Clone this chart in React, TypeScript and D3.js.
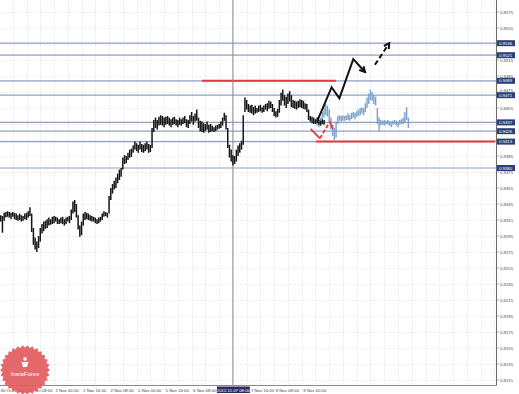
import React from "react";
import * as d3 from "d3";

// ---- data (hourly bars, EURCHF-like H1) ----
const blackStart = 0;
const blackHigh = [
  0.9323, 0.9321, 0.932, 0.9324, 0.9325, 0.9326, 0.9325, 0.9324, 0.9325, 0.9324,
  0.9323, 0.9321, 0.9323, 0.9321, 0.932, 0.9323, 0.9324, 0.9326, 0.9331, 0.9323,
  0.9305, 0.9293, 0.9288, 0.9295, 0.9305, 0.931, 0.9313, 0.9314, 0.9316, 0.9318,
  0.9316, 0.9319, 0.932, 0.9319, 0.9318, 0.9316, 0.9318, 0.9319, 0.9316, 0.9318,
  0.9319, 0.932, 0.9328, 0.9338, 0.934, 0.9335, 0.9321, 0.9308, 0.9313, 0.9323,
  0.9325, 0.9324, 0.9323, 0.9321, 0.932, 0.9319, 0.9318, 0.9316, 0.9318, 0.9319,
  0.9323, 0.9326, 0.9325, 0.9324, 0.9345, 0.9355, 0.936, 0.9364, 0.9368, 0.9373,
  0.9378, 0.938, 0.9393, 0.9396, 0.9395, 0.9399, 0.9403, 0.9404, 0.9408, 0.9413,
  0.9411, 0.9409, 0.9413, 0.941, 0.9409, 0.9411, 0.9413, 0.941, 0.9409, 0.943,
  0.944, 0.9443, 0.944, 0.9444, 0.9446, 0.9445, 0.9443, 0.9444, 0.9445, 0.9443,
  0.9441, 0.9443, 0.9444, 0.9441, 0.944, 0.9443, 0.9441, 0.9443, 0.9445, 0.9441,
  0.944, 0.9446, 0.945, 0.9445, 0.9448, 0.9453, 0.9443, 0.9439, 0.9438, 0.9436,
  0.9435, 0.9438, 0.9434, 0.9435, 0.9433, 0.9431, 0.9433, 0.9434, 0.9435, 0.9438,
  0.9443, 0.9449, 0.9446, 0.943, 0.9409, 0.9403, 0.9396, 0.9395, 0.9403, 0.9408,
  0.9411, 0.9414, 0.9446, 0.9468, 0.9465, 0.946, 0.9458, 0.9459, 0.9456, 0.9458,
  0.9455, 0.9458, 0.9459, 0.9456, 0.9458, 0.946, 0.9461, 0.9464, 0.9463, 0.946,
  0.9455, 0.9451, 0.9454, 0.9465, 0.9474, 0.9478, 0.9471, 0.9469, 0.9473, 0.9476,
  0.9471, 0.9465, 0.9464, 0.9463, 0.9464, 0.9466, 0.9465, 0.9464, 0.9461, 0.946,
  0.9453, 0.9445, 0.9444, 0.9443, 0.9441, 0.9443, 0.944, 0.9439, 0.9441, 0.944,
];
const blackLow = [
  0.9316, 0.9313, 0.9299, 0.9314, 0.9318, 0.9319, 0.9318, 0.9316, 0.9319, 0.9316,
  0.9315, 0.9314, 0.9315, 0.9313, 0.9314, 0.9316, 0.9315, 0.9318, 0.932, 0.93,
  0.9284, 0.9278, 0.9275, 0.928, 0.9288, 0.9298, 0.9301, 0.9304, 0.9305, 0.9308,
  0.9309, 0.931, 0.9311, 0.9313, 0.931, 0.931, 0.9311, 0.931, 0.9308, 0.931,
  0.9313, 0.9311, 0.9315, 0.9323, 0.9325, 0.9318, 0.9303, 0.9294, 0.9296, 0.9308,
  0.9315, 0.9316, 0.9315, 0.9314, 0.9313, 0.9313, 0.9311, 0.931, 0.9311, 0.9313,
  0.9315, 0.9319, 0.932, 0.9318, 0.9323, 0.934, 0.9348, 0.9353, 0.9355, 0.9361,
  0.9365, 0.9369, 0.9378, 0.9385, 0.9386, 0.939, 0.9393, 0.9394, 0.9399, 0.9403,
  0.9401, 0.9399, 0.9403, 0.94, 0.9399, 0.9401, 0.9403, 0.9399, 0.94, 0.9405,
  0.9425, 0.943, 0.9428, 0.9433, 0.9434, 0.9433, 0.9431, 0.9434, 0.9435, 0.9433,
  0.9431, 0.9434, 0.9435, 0.9433, 0.9431, 0.9434, 0.9433, 0.9435, 0.9436, 0.9431,
  0.943, 0.9435, 0.9438, 0.9434, 0.9438, 0.9439, 0.943, 0.9426, 0.9425, 0.9424,
  0.9426, 0.9428, 0.9424, 0.9425, 0.9426, 0.9425, 0.9426, 0.9428, 0.9429, 0.943,
  0.9433, 0.9439, 0.9428, 0.9405, 0.9393, 0.9388, 0.9383, 0.9385, 0.9388, 0.9395,
  0.9399, 0.9403, 0.9409, 0.945, 0.9453, 0.945, 0.9449, 0.9448, 0.9446, 0.9448,
  0.9449, 0.945, 0.9451, 0.9449, 0.945, 0.9453, 0.9451, 0.9454, 0.9455, 0.945,
  0.9445, 0.9443, 0.9444, 0.9449, 0.9458, 0.9464, 0.9458, 0.9455, 0.946, 0.9463,
  0.9456, 0.9455, 0.9454, 0.9453, 0.9455, 0.9456, 0.9455, 0.9454, 0.9453, 0.945,
  0.944, 0.9438, 0.9436, 0.9435, 0.9435, 0.9436, 0.9434, 0.9433, 0.9435, 0.9434,
];
const blueStart = 185;
const blueHigh = [
  0.944, 0.9441, 0.9443, 0.945, 0.9459, 0.946, 0.9458, 0.9453, 0.9443, 0.9434,
  0.943, 0.9438, 0.9445, 0.9446, 0.9445, 0.9446, 0.9445, 0.9446, 0.9448, 0.9446,
  0.9449, 0.945, 0.9449, 0.9451, 0.9453, 0.9455, 0.9456, 0.9455, 0.9461, 0.9468,
  0.9473, 0.9478, 0.9475, 0.9471, 0.9469, 0.9455, 0.9443, 0.944, 0.9439, 0.944,
  0.9439, 0.944, 0.9439, 0.9438, 0.9439, 0.944, 0.9439, 0.9438, 0.944, 0.9441,
  0.9443, 0.945, 0.9456, 0.9443,
];
const blueLow = [
  0.9433, 0.9431, 0.9433, 0.9438, 0.9443, 0.9446, 0.9444, 0.9438, 0.9428, 0.942,
  0.9415, 0.9418, 0.9435, 0.9439, 0.9438, 0.9439, 0.9439, 0.944, 0.944, 0.9439,
  0.9441, 0.9443, 0.9441, 0.9444, 0.9445, 0.9446, 0.9448, 0.9446, 0.945, 0.9455,
  0.946, 0.9465, 0.9464, 0.946, 0.9458, 0.9435, 0.9426, 0.9433, 0.9434, 0.9433,
  0.9434, 0.9435, 0.9433, 0.9431, 0.9434, 0.9435, 0.9433, 0.9431, 0.9434, 0.9435,
  0.9435, 0.9436, 0.944, 0.943,
];

const levelPrices = [0.9536, 0.9521, 0.9489, 0.9471, 0.9437, 0.9426, 0.9413, 0.938];
const redLevels = [
  { price: 0.9489, from: 118, to: 196 },
  { price: 0.9413, from: 184.3, to: 288.4 },
];
const forecastArrow: [number, number][] = [
  [184.9, 0.9438], [193.4, 0.9481], [197.9, 0.9467], [206, 0.9516], [212.8, 0.95],
];
const forecastDashed: [number, number][] = [[218.6, 0.9509], [226.9, 0.9536]];
const redPath: [number, number][] = [
  [181.2, 0.9429], [186.6, 0.9417], [192.4, 0.9438], [194, 0.9429],
];

const priceTicks = [
  0.9575, 0.9555, 0.9535, 0.9515, 0.9495, 0.9475, 0.9455, 0.9435, 0.9415, 0.9395,
  0.9375, 0.9355, 0.9335, 0.9315, 0.9295, 0.9275, 0.9255, 0.9235, 0.9215, 0.9195,
  0.9175, 0.9155, 0.9135, 0.9115,
];
const timeTickHours = [0, 16, 32, 48, 64, 80, 96, 112, 144, 160, 176];
const timeTickLabels = [
  "30 Oct 2012", "31 Oct 08:00", "1 Nov 00:00", "1 Nov 16:00", "2 Nov 08:00",
  "5 Nov 00:00", "5 Nov 16:00", "6 Nov 08:00", "7 Nov 16:00",
  "8 Nov 08:00", "9 Nov 00:00",
];
const crosshairHour = 136;
const crosshairLabel = "2012.11.07 08:00";

const W = 519;
const H = 394;
const PR = 496; // plot right
const PB = 385; // plot bottom
const FONT = "'Liberation Sans', Arial, sans-serif";

export default function App() {
  const x = d3.scaleLinear().domain([0, 288.4]).range([-1, 495]);
  const y = d3.scaleLinear().domain([0.9575, 0.9115]).range([12, 380]);
  const line = d3
    .line<[number, number]>()
    .x((d) => x(d[0]))
    .y((d) => y(d[1]));

  const arrowHead = (pts: [number, number][], len = 6) => {
    const a = pts[pts.length - 2];
    const b = pts[pts.length - 1];
    const x1 = x(a[0]), y1 = y(a[1]), x2 = x(b[0]), y2 = y(b[1]);
    const ang = Math.atan2(y2 - y1, x2 - x1);
    const p1 = [x2 - len * Math.cos(ang - 0.5), y2 - len * Math.sin(ang - 0.5)];
    const p2 = [x2 - len * Math.cos(ang + 0.5), y2 - len * Math.sin(ang + 0.5)];
    return `M${p1[0]},${p1[1]}L${x2},${y2}L${p2[0]},${p2[1]}`;
  };

  const vGrid = d3.range(0, 289, 8);
  const star = d3.range(60).map((i) => {
    const r = i % 2 === 0 ? 25 : 22.5;
    const a = (i / 60) * Math.PI * 2;
    return [25 + r * Math.cos(a), 370 + r * Math.sin(a)];
  });
  const shownTicks = priceTicks
    .filter((p) => !levelPrices.some((l) => Math.abs(y(l) - y(p)) < 3))
    .map((p) => {
      let ty = y(p);
      levelPrices.forEach((l) => {
        const d = ty - y(l);
        if (Math.abs(d) < 4.8) ty = y(l) + (d < 0 ? -4.8 : 4.8);
      });
      return { p, ty };
    });
  const chX = x(crosshairHour);
  const timeX = (h: number) =>
    h > crosshairHour ? Math.max(chX + 18, x(h) + 1.5) : Math.max(0.5, x(h) + 1.5);

  return (
    <svg
      width={W}
      height={H}
      style={{ position: "absolute", left: 0, top: 0, background: "#fff" }}
    >
      <rect x={0} y={0} width={W} height={H} fill="#fff" />
      {/* grid */}
      <g stroke="#cdd1d6" strokeWidth={0.6} strokeDasharray="1,1.5">
        {vGrid.map((h) => (
          <line key={"v" + h} x1={Math.round(x(h)) + 0.5} x2={Math.round(x(h)) + 0.5} y1={0} y2={PB} />
        ))}
        {priceTicks.map((p) => (
          <line key={"h" + p} x1={0} x2={PR} y1={Math.round(y(p)) + 0.5} y2={Math.round(y(p)) + 0.5} />
        ))}
      </g>
      {/* level lines */}
      <g stroke="#8fa1c3" strokeWidth={1.2}>
        {levelPrices.map((p) => (
          <line key={"l" + p} x1={0} x2={PR} y1={y(p)} y2={y(p)} />
        ))}
      </g>
      {redLevels.map((r, i) => (
        <line key={"r" + i} x1={x(r.from)} x2={Math.min(PR, x(r.to))} y1={y(r.price)} y2={y(r.price)} stroke="#e8383d" strokeWidth={2} />
      ))}
      {/* crosshair */}
      <line x1={chX} x2={chX} y1={0} y2={PB} stroke="#8a8a8a" strokeWidth={1} />
      {/* blue bars */}
      <g stroke="#7aa0cb" strokeWidth={1.4}>
        {blueHigh.map((hi, i) => (
          <line key={"b" + i} x1={x(blueStart + i)} x2={x(blueStart + i)} y1={y(hi)} y2={y(blueLow[i])} />
        ))}
      </g>
      {/* black bars */}
      <g stroke="#151515" strokeWidth={1.5}>
        {blackHigh.map((hi, i) => (
          <line key={"k" + i} x1={x(blackStart + i)} x2={x(blackStart + i)} y1={y(hi)} y2={y(blackLow[i])} />
        ))}
      </g>
      {/* forecast */}
      <path d={line(forecastArrow) || ""} fill="none" stroke="#111" strokeWidth={2} strokeLinejoin="miter" />
      <path d={arrowHead(forecastArrow)} fill="none" stroke="#111" strokeWidth={2} />
      <path d={line(forecastDashed) || ""} fill="none" stroke="#111" strokeWidth={2} strokeDasharray="5,3" />
      <path d={arrowHead(forecastDashed)} fill="none" stroke="#111" strokeWidth={2} />
      <path d={line(redPath.slice(0, 2)) || ""} fill="none" stroke="#e8383d" strokeWidth={1.8} />
      <path d={line(redPath.slice(1, 3)) || ""} fill="none" stroke="#e8383d" strokeWidth={1.8} strokeDasharray="4,2" />
      <path d={line(redPath.slice(2, 4)) || ""} fill="none" stroke="#e8383d" strokeWidth={1.8} />
      {/* frame */}
      <line x1={PR + 0.5} x2={PR + 0.5} y1={0} y2={PB + 0.5} stroke="#6a6a6a" strokeWidth={1} />
      <line x1={0} x2={PR + 0.5} y1={PB + 0.5} y2={PB + 0.5} stroke="#8a8a8a" strokeWidth={1} />
      {/* price axis */}
      <g stroke="#777" strokeWidth={0.6}>
        {priceTicks.map((p) => (
          <line key={"tk" + p} x1={PR} x2={PR + 3} y1={y(p)} y2={y(p)} />
        ))}
      </g>
      <g fontFamily={FONT} fontSize={4.3} fill="#444">
        {shownTicks.map((t) => (
          <text key={"t" + t.p} x={500} y={t.ty + 1.5}>{t.p.toFixed(4)}</text>
        ))}
      </g>
      <g fontFamily={FONT} fontSize={4.3}>
        {levelPrices.map((p) => (
          <g key={"lb" + p}>
            <rect x={497} y={y(p) - 3} width={18} height={6} fill="#2b3d7c" />
            <text x={499} y={y(p) + 1.5} fill="#fff">{p.toFixed(4)}</text>
          </g>
        ))}
      </g>
      {/* time axis */}
      <g fontFamily={FONT} fontSize={4.3} fill="#444">
        {timeTickHours.map((h, i) => (
          <text key={"tt" + h} x={timeX(h)} y={391.5}>
            {timeTickLabels[i]}
          </text>
        ))}
      </g>
      <rect x={chX - 16} y={386.5} width={33} height={6.5} fill="#2e2a60" />
      <text x={chX + 0.5} y={391.5} textAnchor="middle" fontFamily={FONT} fontSize={4.3} fill="#fff">
        {crosshairLabel}
      </text>
      {/* logo */}
      <g opacity={0.92}>
        <polygon points={star.map((p) => p.join(",")).join(" ")} fill="#e35c5e" />
        <circle cx={25} cy={359} r={1.8} fill="#fff" />
        <path d="M21.5,362 L28.5,362 L27,367 L23,367 Z" fill="#fff" />
        <text x={25} y={376} textAnchor="middle" fontFamily={FONT} fontSize={6} fill="#fff">
          InstaForex
        </text>
      </g>
    </svg>
  );
}
